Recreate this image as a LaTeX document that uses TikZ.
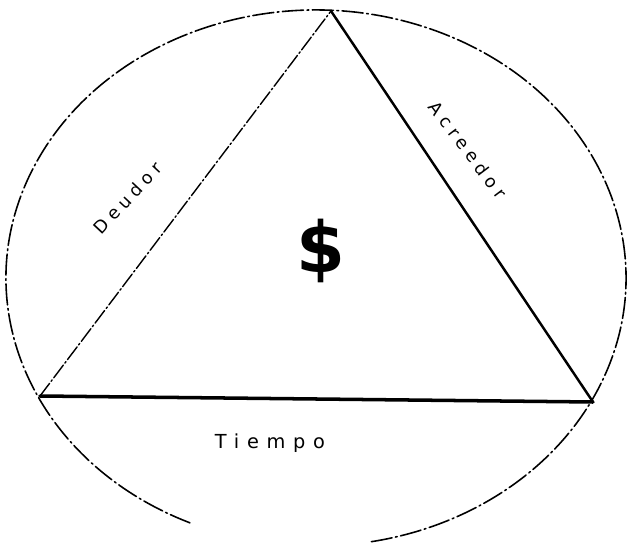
\documentclass[tikz,border=0pt]{standalone}
\usepackage{fontspec}
\newfontfamily\handfont[LetterSpace=30]{DejaVu Sans}
\usetikzlibrary{positioning}
\tikzset{
  every picture/.style={line cap=round, line join=round},
  rim/.style={line width=0.9pt, dash pattern=on 12pt off 2pt on 1pt off 2pt},
  faint/.style={line width=0.8pt, dash pattern=on 9pt off 1.5pt on 1pt off 1.5pt},
  side/.style={line width=1.4pt},
  base/.style={line width=2pt},
  lbl/.style={font=\handfont\fontsize{10}{12}\selectfont, inner sep=0pt},
}
\begin{document}
\begin{tikzpicture}[x=0.02cm, y=-0.02cm]
  \useasboundingbox (0,0) rectangle (627,548);
  \coordinate (ctr) at (316,278);     % centre of the outer ring
  \coordinate (top) at (331,11);      % apex
  \coordinate (left) at (40,396);     % lower left corner
  \coordinate (right) at (593,402);   % lower right corner
  % outer ring, open at the bottom
  \draw[rim] (ctr) ++(114:310 and 268) arc[start angle=114, end angle=440, x radius=310, y radius=268];
  % triangle
  \draw[faint] (left) -- (top);
  \draw[side] (top) -- (right);
  \draw[base] (left) -- (right);
  % labels
  \node[lbl, rotate=47] (deudor) at (128,198) {Deudor};
  \node[lbl, rotate=-53] (acreedor) at (468,150) {Acreedor};
  \node[lbl, font=\handfont\addfontfeature{LetterSpace=40}\fontsize{11}{13}\selectfont] (tiempo) at (270,443) {Tiempo};
  \node[font=\fontspec{DejaVu Sans}\bfseries\fontsize{40}{44}\selectfont, inner sep=0pt] (money) at (321,251) {\$};
\end{tikzpicture}
\end{document}
